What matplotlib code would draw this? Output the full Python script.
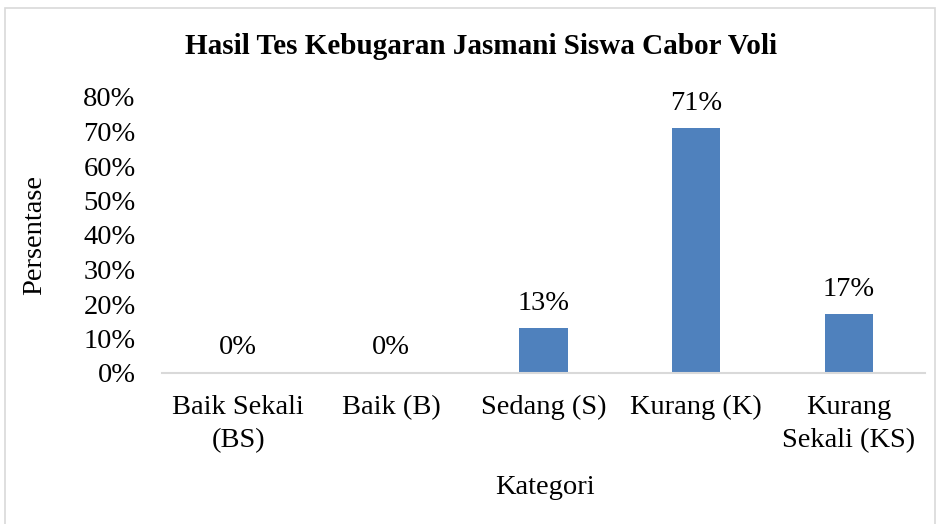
import matplotlib.pyplot as plt
from matplotlib.patches import Rectangle
import numpy as np

categories = ["Baik Sekali\n(BS)", "Baik (B)", "Sedang (S)", "Kurang (K)", "Kurang\nSekali (KS)"]
values = [0, 0, 13, 71, 17]
y_ticks = [0, 10, 20, 30, 40, 50, 60, 70, 80]

plt.rcParams["font.family"] = ["Liberation Serif", "DejaVu Serif"]
FS = 20.5

fig = plt.figure(figsize=(9.4, 5.24), dpi=100)
W, H = 940, 524
ax = fig.add_axes([162 / W, 1 - 373 / H, (925 - 162) / W, (373 - 97) / H])

x = np.arange(len(categories))
ax.bar(x, values, width=0.315, color="#4F81BD")

for xi, v in zip(x, values):
    ax.annotate(f"{v}%", (xi, v), xytext=(0, 18), textcoords="offset points",
                ha="center", va="center", fontsize=FS)

ax.set_xlim(-0.5, len(categories) - 0.5)
ax.set_ylim(0, 80)
ax.set_yticks(y_ticks)
ax.set_yticklabels([f"{t}%" for t in y_ticks], fontsize=FS)
ax.set_xticks(x)
ax.set_xticklabels(categories, fontsize=FS, linespacing=1.4)
ax.tick_params(axis="both", length=0)
ax.tick_params(axis="y", pad=19)
ax.tick_params(axis="x", pad=16)

for side in ("left", "right", "top"):
    ax.spines[side].set_visible(False)
ax.spines["bottom"].set_color("#D9D9D9")
ax.spines["bottom"].set_linewidth(1.5)

fig.text(35 / W, 1 - 235 / H, "Persentase", rotation=90,
         ha="center", va="center", fontsize=FS)
fig.text(545 / W, 1 - 487 / H, "Kategori", ha="center", va="center", fontsize=FS)
fig.text(481 / W, 1 - 47 / H, "Hasil Tes Kebugaran Jasmani Siswa Cabor Voli",
         ha="center", va="center", fontsize=21, fontweight="bold")

fig.patches.append(Rectangle((5 / W, -0.05), (935 - 5) / W, 1.05 - 8 / H,
                             transform=fig.transFigure, fill=False,
                             edgecolor="#D9D9D9", linewidth=1.2))

fig.savefig("out.png", dpi=100)
